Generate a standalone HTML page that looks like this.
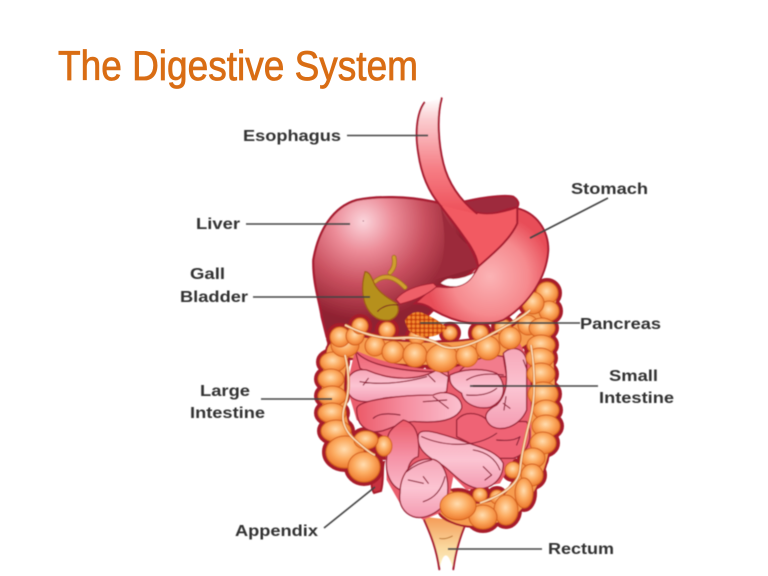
<!DOCTYPE html>
<html><head><meta charset="utf-8"><title>The Digestive System</title>
<style>html,body{margin:0;padding:0;background:#fff}svg{display:block}
.l{font:bold 15.5px "Liberation Sans",sans-serif;fill:#333}
.w{fill:none;stroke:#a81c30;stroke-linecap:round;stroke-linejoin:round}
</style></head><body>
<svg width="768" height="576" viewBox="0 0 768 576" xmlns="http://www.w3.org/2000/svg">
<defs>
<filter id="b" x="-5%" y="-5%" width="110%" height="110%"><feGaussianBlur stdDeviation="0.55"/></filter>
<radialGradient id="liv" gradientUnits="userSpaceOnUse" cx="220" cy="395" r="300">
<stop offset="0" stop-color="#fbd5dc"/><stop offset=".3" stop-color="#ec8c98"/><stop offset=".62" stop-color="#c9505f"/><stop offset="1" stop-color="#8e2030"/></radialGradient>
<radialGradient id="org" cx=".48" cy=".42" r=".6">
<stop offset="0" stop-color="#ffddb0"/><stop offset=".5" stop-color="#fcab60"/><stop offset="1" stop-color="#ec762a"/></radialGradient>
<linearGradient id="eso" x1="0" y1="0" x2="0" y2="1"><stop offset="0" stop-color="#fff"/><stop offset=".18" stop-color="#fbcdd0"/><stop offset=".6" stop-color="#f67f86"/><stop offset="1" stop-color="#ee4f58"/></linearGradient>
<radialGradient id="sto" gradientUnits="userSpaceOnUse" cx="600" cy="560" r="190"><stop offset="0" stop-color="#fbb3b5"/><stop offset=".6" stop-color="#f68a8e"/><stop offset="1" stop-color="#e84d58"/></radialGradient>
<linearGradient id="rec" x1="0" y1="0" x2="0" y2="1"><stop offset="0" stop-color="#f59a56"/><stop offset=".6" stop-color="#fad9a0"/><stop offset="1" stop-color="#fdf3c8"/></linearGradient>
<linearGradient id="pk" x1="0" y1="0" x2="0" y2="1"><stop offset="0" stop-color="#f7a7b8"/><stop offset=".5" stop-color="#fbc4d2"/><stop offset="1" stop-color="#f49ab0"/></linearGradient>
<linearGradient id="pkr" x1="0" y1="0" x2="1" y2="0"><stop offset="0" stop-color="#ec5a68"/><stop offset=".45" stop-color="#f58d9f"/><stop offset="1" stop-color="#fbc0cf"/></linearGradient>
<linearGradient id="pkv" x1="0" y1="0" x2="0" y2="1"><stop offset="0" stop-color="#ec5a68"/><stop offset=".5" stop-color="#f591a5"/><stop offset="1" stop-color="#fbbccc"/></linearGradient>
<linearGradient id="red" x1="0" y1="0" x2="0" y2="1"><stop offset="0" stop-color="#ef6474"/><stop offset="1" stop-color="#f58a9a"/></linearGradient>
<pattern id="pan" width="13" height="13" patternUnits="userSpaceOnUse"><rect width="13" height="13" fill="#c8400e"/><circle cx="6.500" cy="6.500" r="5" fill="#f58a2e"/></pattern>
<g id="colon">
<ellipse cx="333" cy="362" rx="13" ry="10"/><ellipse cx="331" cy="379" rx="13" ry="10"/><ellipse cx="332" cy="396" rx="14" ry="10"/><ellipse cx="332" cy="413" rx="14" ry="10"/><ellipse cx="336" cy="431" rx="15" ry="11"/><ellipse cx="345" cy="452" rx="19" ry="16"/><ellipse cx="364" cy="467" rx="16" ry="15"/><ellipse cx="384" cy="446" rx="8" ry="10"/><ellipse cx="366" cy="440" rx="12" ry="9"/>
<ellipse cx="345" cy="345" rx="14" ry="12"/><circle cx="340" cy="337" r="10"/><circle cx="355" cy="336" r="9"/><circle cx="360" cy="326" r="8"/><circle cx="387" cy="330" r="8"/><circle cx="417" cy="337" r="8"/><circle cx="450" cy="333" r="7"/><circle cx="480" cy="333" r="8"/><circle cx="503" cy="327" r="8"/>
<circle cx="375" cy="346" r="10"/><circle cx="393" cy="352" r="11"/><circle cx="415" cy="355" r="12"/><ellipse cx="442" cy="358" rx="16" ry="14"/><circle cx="467" cy="356" r="11"/><circle cx="488" cy="348" r="12"/><circle cx="510" cy="338" r="11"/><circle cx="528" cy="325" r="10"/>
<ellipse cx="547" cy="293" rx="11" ry="11"/><ellipse cx="549" cy="311" rx="10" ry="10"/><ellipse cx="533" cy="303" rx="11" ry="11"/><ellipse cx="542" cy="328" rx="13" ry="10"/>
<ellipse cx="541" cy="345" rx="14" ry="10"/><ellipse cx="540" cy="358" rx="14" ry="10"/><ellipse cx="541" cy="374" rx="14" ry="11"/><ellipse cx="543" cy="394" rx="15" ry="12"/><ellipse cx="546" cy="410" rx="13" ry="10"/><ellipse cx="546" cy="426" rx="14" ry="11"/><ellipse cx="543" cy="443" rx="13" ry="11"/><ellipse cx="533" cy="458" rx="12" ry="10"/><ellipse cx="532" cy="475" rx="11" ry="11"/><ellipse cx="524" cy="493" rx="9" ry="15"/><circle cx="513" cy="470" r="8"/><circle cx="497" cy="497" r="7"/><circle cx="480" cy="495" r="7"/><ellipse cx="506" cy="510" rx="12" ry="15"/><ellipse cx="483" cy="517" rx="14" ry="12"/><ellipse cx="458" cy="506" rx="18" ry="14"/>
</g>
</defs>
<rect width="768" height="576" fill="#fff"/>

<text x="58" y="80" font-family="Liberation Sans,sans-serif" font-size="42" fill="#d96d14" stroke="#d96d14" stroke-width=".8" textLength="360" lengthAdjust="spacingAndGlyphs">The Digestive System</text>

<g filter="url(#b)">
<!-- rectum -->
<g transform="translate(300,320) scale(.3333)">
<path d="M368,590C395,650 412,690 418,748C430,690 445,695 460,748C468,700 480,650 500,605Z" fill="url(#rec)"/>
<path d="M368,590C395,650 410,690 418,748M500,605C480,650 466,700 460,748" class="w" stroke-width="6"/>
<path d="M418,655Q435,660 458,648" fill="none" stroke="#b8722a" stroke-width="3"/>
</g>

<!-- liver -->
<g transform="translate(290,90) scale(.3333)">
<path d="M430,335C350,318 260,318 200,330C130,350 85,420 70,510C68,580 90,640 95,680L110,740L350,740L560,530L560,470L450,340Z" fill="url(#liv)" stroke="#a81c30" stroke-width="7"/>
<path d="M450,345C480,420 520,460 558,480L562,532L470,560L430,570C470,520 470,430 450,345Z" fill="#9c2a3a"/>
<circle cx="220" cy="393" r="2" fill="#a06070"/>
</g>

<!-- appendix -->
<path d="M373,465C372,478 370,487 374,493L381,491C384,480 382,470 384,462Z" fill="#c83040" stroke="#a81c2b" stroke-width="2"/>

<!-- colon band + outline -->
<path d="M345,345C360,350 500,370 530,325L545,300M338,352C328,390 332,440 360,465M540,340C548,400 545,470 510,505C480,522 450,515 445,500" fill="none" stroke="#a81c2b" stroke-width="26" stroke-linejoin="round" stroke-linecap="round"/>
<use href="#colon" fill="#a81c2b" stroke="#a81c2b" stroke-width="8"/>
<path d="M345,345C360,350 500,370 530,325L545,300M338,352C328,390 332,440 360,465M540,340C548,400 545,470 510,505C480,522 450,515 445,500" fill="none" stroke="#f79c50" stroke-width="22" stroke-linejoin="round" stroke-linecap="round"/>

<!-- small intestine -->
<g transform="translate(300,320) scale(.3333)">
<path d="M165,90C250,130 350,150 430,150L600,110L660,70L690,130L695,380L640,420L600,490L500,510L460,470L440,570L370,600L300,550L260,480L255,350L170,300L140,200Z" fill="#ea5e6e"/>
<g stroke="#9c2238" stroke-width="4" stroke-linejoin="round">
<path d="M165,90C190,130 280,150 380,155L445,155L445,185C360,190 260,185 180,145Z" fill="url(#red)"/>
<path d="M470,165C500,120 570,100 610,110L620,170L520,170Z" fill="#f27c8c"/>
<path d="M470,300C500,265 550,285 560,300C590,320 640,300 680,305C700,340 690,400 640,415L600,415L470,350Z" fill="#ef6474"/>
<path d="M140,200C140,160 170,145 200,150C280,185 360,180 410,150L445,170L440,215C380,240 300,225 250,235C190,255 145,245 140,200Z" fill="url(#pk)"/>
<path d="M170,265C175,240 300,225 400,225C440,205 490,230 485,265C470,300 420,310 350,305C300,300 260,340 220,335C180,325 170,300 170,265Z" fill="url(#pkr)"/>
<path d="M610,100C640,70 680,90 680,130L680,270C660,320 600,340 570,315C545,290 560,270 590,255C625,220 625,170 610,100Z" fill="url(#pk)"/>
<path d="M450,165C480,150 540,140 590,160C620,190 620,240 570,262C530,270 490,250 485,220C460,205 445,190 450,165Z" fill="url(#pk)"/>
<path d="M310,300C350,310 360,350 355,410C320,420 320,460 320,515C280,510 250,470 262,400C265,350 250,340 310,300Z" fill="url(#pkv)"/>
<path d="M355,345C360,320 420,340 480,360C530,380 590,390 610,430C610,480 570,510 530,505C470,490 450,440 400,420C370,400 350,380 355,345Z" fill="url(#pk)"/>
<path d="M300,520C300,460 340,410 400,418C440,430 450,490 440,540C420,580 370,600 340,590C310,580 295,550 300,520Z" fill="url(#pk)"/>
</g>
<g fill="none" stroke="#8f1f38" stroke-width="3.5" stroke-linecap="round" stroke-linejoin="round">
<path d="M180,185Q270,200 380,170M205,175L190,195M385,165L405,185"/>
<path d="M220,295Q240,275 300,285M400,230L445,265M370,245L440,240"/>
<path d="M500,180Q540,155 610,165M520,198H620M500,225Q560,230 590,205"/>
<path d="M610,250L630,265M618,230L612,270M670,120L685,160"/>
<path d="M590,360Q640,365 660,350L650,375"/>
<path d="M320,455Q350,430 395,420M370,490L325,480M370,470L385,490"/>
<path d="M365,350C420,375 520,390 590,340M520,390Q580,400 600,450M550,440L575,465L555,480"/>
<path d="M370,545Q420,530 435,470"/>
</g>
</g>

<!-- colon fill -->
<use href="#colon" fill="url(#org)" stroke="#d4621f" stroke-width="1"/>
<path d="M345,325Q375,340 400,338T440,345T490,335T530,310M345,355Q352,385 345,405T355,440T375,455M531,345Q538,390 530,420T520,470T480,503" fill="none" stroke="#d9782d" stroke-width="3" stroke-linejoin="round"/>
<path d="M345,325Q375,340 400,338T440,345T490,335T530,310M345,355Q352,385 345,405T355,440T375,455M531,345Q538,390 530,420T520,470T480,503" fill="none" stroke="#fde2bd" stroke-width="1.4"/>

<!-- stomach and esophagus -->
<g transform="translate(290,90) scale(.3333)">
<path d="M500,340C560,325 640,312 670,320Q692,335 682,352C640,355 600,385 570,378C540,370 520,350 500,340Z" fill="#9e2b3c" stroke="#a81c30" stroke-width="6"/>
<path d="M450,345L520,340C540,370 590,385 682,352L682,400C660,450 610,490 565,530C560,470 500,420 450,345Z" fill="#f25a62" stroke="#a81c30" stroke-width="5"/>
<path d="M682,355C740,370 775,420 775,480C770,560 720,640 640,690C580,715 500,700 430,660C405,640 385,640 375,640L430,590L450,590C520,600 550,560 565,530C610,490 660,450 682,400Z" fill="url(#sto)" stroke="#a81c30" stroke-width="6"/>
<path d="M403,38C380,70 375,130 385,190C395,260 420,310 450,345L560,372C510,330 475,280 460,220C445,160 440,80 455,25Z" fill="url(#eso)"/>
<path d="M403,38C380,70 375,130 385,190C395,260 420,310 450,345C490,400 540,450 565,530" class="w" stroke-width="6"/>
<path d="M455,25C440,80 445,160 460,220C475,280 510,330 560,370" class="w" stroke-width="6"/>
<path d="M450,580Q470,560 490,566Q530,562 556,545Q540,582 500,590Q470,592 450,580Z" fill="#fff" stroke="#a81c30" stroke-width="3"/>
<path d="M318,628Q350,590 430,580L440,590Q400,625 330,642Z" fill="#ef5f68" stroke="#a81c30" stroke-width="3"/>
<!-- pancreas -->
<path d="M345,690Q365,660 395,668Q440,685 472,715Q440,745 400,740Q350,735 345,690Z" fill="url(#pan)"/>
<!-- gallbladder -->
<path d="M255,575Q295,540 345,592M300,548Q318,530 312,502" fill="none" stroke="#a5681a" stroke-width="15" stroke-linecap="round"/>
<path d="M255,575Q295,540 345,592M300,548Q318,530 312,502" fill="none" stroke="#cf9f2e" stroke-width="10" stroke-linecap="round"/>
<path d="M225,545C215,580 215,610 225,640C240,680 270,695 300,690C325,680 330,660 320,640C295,625 270,610 255,585C245,565 240,545 225,545Z" fill="#b6901e" stroke="#a25a12" stroke-width="4"/>
<path d="M262,665Q285,640 325,645" fill="none" stroke="#7a1a1a" stroke-width="3"/>
</g>
</g>

<!-- leader lines -->
<g stroke="#444" stroke-width="1.6" fill="none" filter="url(#b)">
<path d="M347,135.500H428M246,224H350M253,297H370M608,198L530,238M580,323H420M598,386H470M261,399H332M324,528L375,487M542,549H448"/>
</g>

<!-- labels -->
<g class="l" filter="url(#b)">
<text class="l" x="243" y="141" textLength="98" lengthAdjust="spacingAndGlyphs">Esophagus</text>
<text class="l" x="196" y="229" textLength="44" lengthAdjust="spacingAndGlyphs">Liver</text>
<text class="l" x="190" y="279" textLength="35" lengthAdjust="spacingAndGlyphs">Gall</text>
<text class="l" x="180" y="302" textLength="68" lengthAdjust="spacingAndGlyphs">Bladder</text>
<text class="l" x="571" y="194" textLength="77" lengthAdjust="spacingAndGlyphs">Stomach</text>
<text class="l" x="580" y="329" textLength="81" lengthAdjust="spacingAndGlyphs">Pancreas</text>
<text class="l" x="609" y="381" textLength="49" lengthAdjust="spacingAndGlyphs">Small</text>
<text class="l" x="599" y="403" textLength="75" lengthAdjust="spacingAndGlyphs">Intestine</text>
<text class="l" x="200" y="396" textLength="50" lengthAdjust="spacingAndGlyphs">Large</text>
<text class="l" x="190" y="418" textLength="75" lengthAdjust="spacingAndGlyphs">Intestine</text>
<text class="l" x="235" y="536" textLength="83" lengthAdjust="spacingAndGlyphs">Appendix</text>
<text class="l" x="548" y="554" textLength="66" lengthAdjust="spacingAndGlyphs">Rectum</text>
</g>
</svg>
</body></html>
